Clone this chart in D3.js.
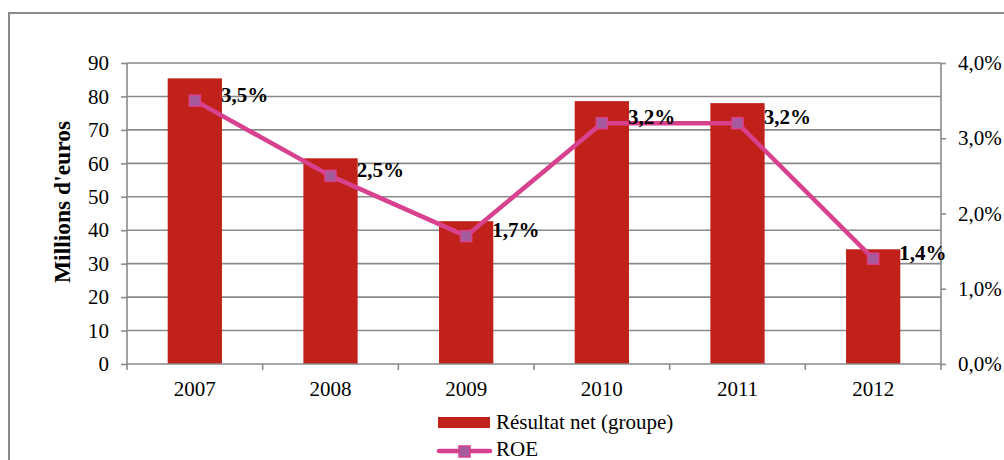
<!DOCTYPE html>
<html>
<head>
<meta charset="utf-8">
<script src="https://cdn.jsdelivr.net/npm/d3@7"></script>
<style>
  body { margin: 0; background: #fff; }
  svg { display: block; font-family: "Liberation Serif", "Times New Roman", serif; }
</style>
</head>
<body>
<svg id="chart" width="1004" height="460"></svg>
<script>
// data
const years = ["2007", "2008", "2009", "2010", "2011", "2012"];
const resultat = [85.4, 61.5, 42.7, 78.6, 78.0, 34.3]; // millions d'euros
const roe = [3.5, 2.5, 1.7, 3.2, 3.2, 1.4]; // %
const leftTicks = [0, 10, 20, 30, 40, 50, 60, 70, 80, 90];
const rightTicks = [0, 1, 2, 3, 4];

const svg = d3.select('#chart');
const grey = '#8a8a8a';
const barColor = '#c1211b';
const lineColor = '#d8418e';
const markFill = '#a45c9f';
const fs = 21;

// outer frame (bottom / right run off the picture)
svg.append('rect')
  .attr('x', 9).attr('y', 13)
  .attr('width', 1010).attr('height', 470)
  .attr('fill', 'none').attr('stroke', grey).attr('stroke-width', 2);

const plot = { left: 127, right: 941, top: 63, bottom: 364 };

const x = d3.scaleBand().domain(years).range([plot.left, plot.right]);
const yL = d3.scaleLinear().domain([0, 90]).range([plot.bottom, plot.top]);
const yR = d3.scaleLinear().domain([0, 4]).range([plot.bottom, plot.top]);

// gridlines
svg.append('g').selectAll('line').data(leftTicks.slice(1)).enter().append('line')
  .attr('x1', plot.left).attr('x2', plot.right)
  .attr('y1', d => yL(d)).attr('y2', d => yL(d))
  .attr('stroke', grey).attr('stroke-width', 1.6);

// bars
const barW = x.bandwidth() * 0.4;
svg.append('g').selectAll('rect').data(resultat).enter().append('rect')
  .attr('x', (d, i) => x(years[i]) + x.bandwidth() / 2 - barW / 2)
  .attr('y', d => yL(d))
  .attr('width', barW)
  .attr('height', d => yL(0) - yL(d))
  .attr('fill', barColor);

// left axis
const axL = svg.append('g')
  .attr('transform', `translate(${plot.left},0)`)
  .call(d3.axisLeft(yL).tickValues(leftTicks).tickSize(6).tickPadding(12));
// right axis
const axR = svg.append('g')
  .attr('transform', `translate(${plot.right},0)`)
  .call(d3.axisRight(yR).tickValues(rightTicks).tickSize(5).tickPadding(12)
    .tickFormat(d => d3.format('.1f')(d).replace('.', ',') + '%'));
// bottom axis: ticks at category boundaries
const axB = svg.append('g')
  .attr('transform', `translate(0,${plot.bottom})`)
  .call(d3.axisBottom(x).tickSize(0).tickPadding(17));
axB.append('g').selectAll('line')
  .data(d3.range(years.length + 1)).enter().append('line')
  .attr('x1', i => plot.left + i * x.step()).attr('x2', i => plot.left + i * x.step())
  .attr('y1', 0).attr('y2', 6)
  .attr('stroke', grey).attr('stroke-width', 1.6);

[axL, axR, axB].forEach(a => {
  a.selectAll('path.domain').attr('stroke', grey).attr('stroke-width', 1.6);
  a.selectAll('.tick line').attr('stroke', grey).attr('stroke-width', 1.6);
  a.selectAll('text').attr('font-family', '"Liberation Serif", serif')
    .attr('font-size', fs).attr('fill', '#000');
});
axL.select('path.domain').attr('d', `M0,${plot.top}V${plot.bottom}`);
axR.select('path.domain').attr('d', `M0,${plot.top}V${plot.bottom}`);
axB.select('path.domain').attr('d', `M${plot.left},0H${plot.right}`);

// y title
svg.append('text')
  .attr('transform', 'translate(70,202) rotate(-90)')
  .attr('text-anchor', 'middle')
  .attr('font-size', 23.5).attr('font-weight', 'bold')
  .text("Millions d'euros");

// ROE line
const cx = i => x(years[i]) + x.bandwidth() / 2;
const line = d3.line().x((d, i) => cx(i)).y(d => yR(d));
svg.append('path').datum(roe)
  .attr('d', line)
  .attr('fill', 'none').attr('stroke', lineColor).attr('stroke-width', 4.5)
  .attr('stroke-linejoin', 'round');

svg.append('g').selectAll('rect').data(roe).enter().append('rect')
  .attr('x', (d, i) => cx(i) - 5.5).attr('y', d => yR(d) - 5.5)
  .attr('width', 11).attr('height', 11)
  .attr('fill', markFill).attr('stroke', lineColor).attr('stroke-width', 1.5);

// value labels
svg.append('g').selectAll('text').data(roe).enter().append('text')
  .attr('x', (d, i) => cx(i) + barW / 2 - 1)
  .attr('y', d => yR(d) + 1)
  .attr('font-size', fs).attr('font-weight', 'bold')
  .text(d => d3.format('.1f')(d).replace('.', ',') + '%');

// legend
const leg = svg.append('g');
leg.append('rect').attr('x', 438).attr('y', 417).attr('width', 52).attr('height', 11)
  .attr('fill', barColor);
leg.append('text').attr('x', 496).attr('y', 429).attr('font-size', fs)
  .text('Résultat net (groupe)');
leg.append('line').attr('x1', 439).attr('x2', 490).attr('y1', 451).attr('y2', 451)
  .attr('stroke', lineColor).attr('stroke-width', 4.5).attr('stroke-linecap', 'round');
leg.append('rect').attr('x', 459).attr('y', 446).attr('width', 11).attr('height', 11)
  .attr('fill', markFill).attr('stroke', lineColor).attr('stroke-width', 1.5);
leg.append('text').attr('x', 496).attr('y', 456).attr('font-size', fs)
  .text('ROE');
</script>
</body>
</html>
